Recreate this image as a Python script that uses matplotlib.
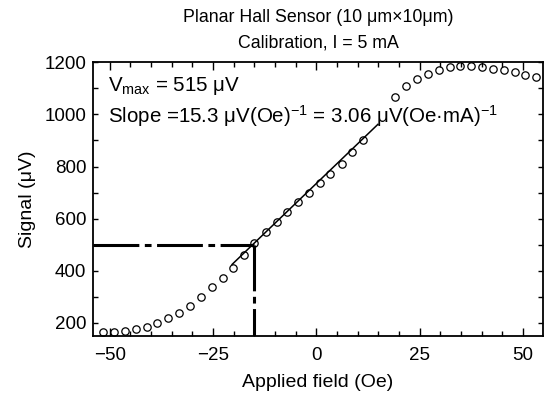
import matplotlib
matplotlib.use("Agg")
import matplotlib.pyplot as plt
from matplotlib.ticker import MultipleLocator

plt.rcParams['font.family'] = ['Liberation Sans', 'DejaVu Sans']
plt.rcParams['mathtext.fontset'] = 'custom'
plt.rcParams['mathtext.rm'] = 'Liberation Sans'
plt.rcParams['mathtext.it'] = 'Liberation Sans:italic'

# measured signal vs applied field (points hidden under the text are left out)
field = [-51.6, -49.0, -46.3, -43.7, -41.1, -38.5, -35.9, -33.2, -30.6,
         -27.9, -25.3, -22.7, -20.1, -17.5, -15.1, -12.3, -9.6, -7.1, -4.4,
         -1.8, 0.8, 3.4, 6.1, 8.7, 11.3,
         19.1, 21.8, 24.4, 27.0, 29.7, 32.3, 34.9, 37.5, 40.2, 42.7, 45.4,
         48.0, 50.6, 53.2]
signal = [164, 165, 170, 175, 182, 198, 217, 236, 264,
          298, 336, 371, 412, 459, 505, 548, 588, 627, 665,
          699, 735, 772, 811, 855, 901,
          1068, 1110, 1137, 1157, 1172, 1181, 1185, 1185, 1182, 1176, 1169,
          1163, 1153, 1142]

# linear fit segment
fit_x = [-20.4, 14.9]
fit_y = [424, 962]

# operating point
op_field = -15.0
op_signal = 500

xlim = (-54.0, 54.8)
ylim = (149, 1200)

fig = plt.figure(figsize=(5.47, 4.00), dpi=100)
ax = fig.add_axes([0.1706, 0.16, 0.8215, 0.684])

ax.plot(field, signal, 'o', mfc='none', mec='k', ms=5.3, mew=0.9, zorder=3)
ax.plot(fit_x, fit_y, '-', c='k', lw=1.1, zorder=2)

dash = [15, 1.8, 2.2, 1.8]
ax.plot([xlim[0], op_field], [op_signal, op_signal], c='k', lw=2.2,
        dashes=dash, zorder=1)
ax.plot([op_field, op_field], [op_signal, ylim[0]], c='k', lw=2.2,
        dashes=dash, zorder=1)

ax.set_xlim(xlim)
ax.set_ylim(ylim)

ax.xaxis.set_major_locator(MultipleLocator(25))
ax.xaxis.set_minor_locator(MultipleLocator(5))
ax.yaxis.set_major_locator(MultipleLocator(200))
ax.yaxis.set_minor_locator(MultipleLocator(100))
ax.tick_params(which='both', direction='in', top=True, right=True,
               width=1.0, labelsize=13.5)
ax.tick_params(axis='x', which='both', pad=8)
ax.tick_params(axis='y', which='both', pad=5)
ax.tick_params(axis='x', which='major', length=6)
ax.tick_params(axis='x', which='minor', length=3.5)
ax.tick_params(axis='y', which='both', length=3.8)
for s in ax.spines.values():
    s.set_linewidth(1.3)

ax.set_xlabel("Applied field (Oe)", fontsize=14, labelpad=7)
ax.set_ylabel("Signal (\u03bcV)", fontsize=14, labelpad=6)
ax.set_title("Planar Hall Sensor (10 \u03bcm\u00d710\u03bcm)\nCalibration, I = 5 mA",
             fontsize=12.8, linespacing=1.65, pad=11)

ax.text(0.033, 0.915, "V$_{\\mathrm{max}}$ = 515 \u03bcV",
        transform=ax.transAxes, fontsize=14.8, va='center', ha='left')
ax.text(0.033, 0.805,
        "Slope =15.3 \u03bcV(Oe)$^{-1}$ = 3.06 \u03bcV(Oe\u00b7mA)$^{-1}$",
        transform=ax.transAxes, fontsize=14.8, va='center', ha='left')

fig.savefig("out.png", dpi=100)
